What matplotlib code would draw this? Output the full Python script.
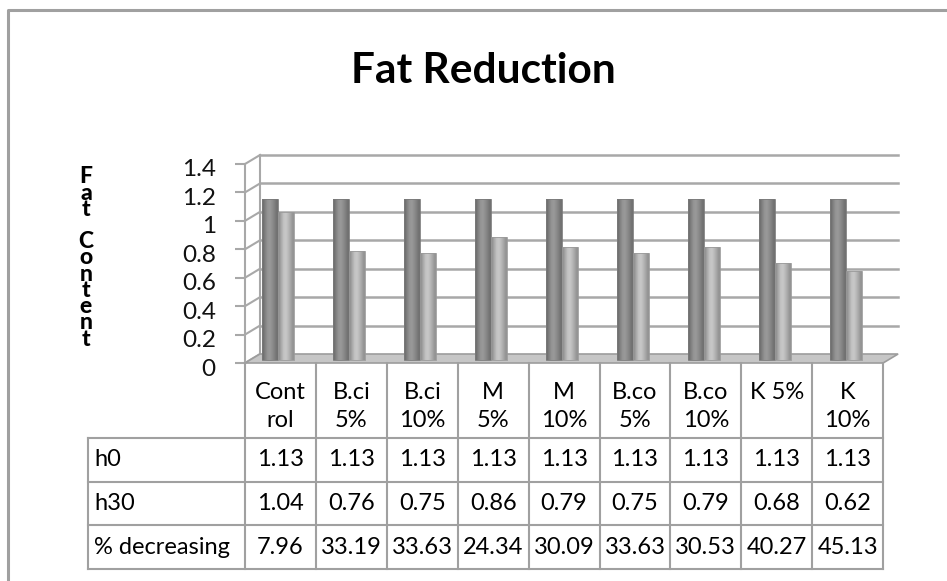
import numpy as np
import matplotlib.pyplot as plt
from matplotlib.patches import Polygon
from matplotlib.transforms import ScaledTranslation

plt.rcParams['font.family'] = ['Lato', 'DejaVu Sans']

# data
categories = ['Cont\nrol', 'B.ci\n5%', 'B.ci\n10%', 'M\n5%', 'M\n10%',
              'B.co\n5%', 'B.co\n10%', 'K 5%', 'K\n10%']
h0 = [1.13, 1.13, 1.13, 1.13, 1.13, 1.13, 1.13, 1.13, 1.13]
h30 = [1.04, 0.76, 0.75, 0.86, 0.79, 0.75, 0.79, 0.68, 0.62]
pct_decreasing = [7.96, 33.19, 33.63, 24.34, 30.09, 33.63, 30.53, 40.27, 45.13]
row_labels = ['h0', 'h30', '% decreasing']
yticks = [0, 0.2, 0.4, 0.6, 0.8, 1, 1.2, 1.4]

W, H = 947, 581
fig = plt.figure(figsize=(W / 100, H / 100), dpi=100)

# pixel layout of the front plane of the plot area
x_left, col_w = 245, 70.9
y_zero, y_top = 363, 164
n = len(categories)
px_per_y = (y_zero - y_top) / 1.4

ax = fig.add_axes([x_left / W, 1 - y_zero / H, n * col_w / W, (y_zero - y_top) / H])
ax.set_xlim(-0.5, n - 0.5)
ax.set_ylim(0, 1.4)
ax.patch.set_visible(False)

# 3d-ish depth offsets (data units)
back_dx, back_dy = 15 / col_w, 9 / px_per_y
bar_dy = 3.5 / px_per_y
grid_col = '#a8a8a8'

# back wall grid + side wall
x0, x1 = -0.5 + back_dx, n - 0.5 + back_dx
for t in yticks[1:]:
    ax.plot([x0, x1], [t + back_dy, t + back_dy], color=grid_col, lw=1.8, clip_on=False, zorder=1)
for t in yticks:
    ax.plot([-0.5, x0], [t, t + back_dy], color=grid_col, lw=1.5, clip_on=False, zorder=1)
ax.plot([x0, x0], [back_dy, 1.4 + back_dy], color=grid_col, lw=1.5, clip_on=False, zorder=1)

# floor
floor = Polygon([(-0.5, 0), (n - 0.5, 0), (x1, back_dy), (x0, back_dy)], closed=True,
                facecolor='#c6c6c6', edgecolor='#9c9c9c', lw=1.2, clip_on=False, zorder=2)
ax.add_patch(floor)


def shade_bars(bars, base):
    base = np.array(plt.matplotlib.colors.to_rgb(base))
    prof = np.array([0.78, 0.92, 1.05, 1.08, 1.0, 0.9, 0.8])
    img = np.clip(prof[None, :, None] * base[None, None, :], 0, 1)
    for b in bars:
        x, y = b.get_x(), b.get_y()
        im = ax.imshow(img, extent=[x, x + b.get_width(), y, y + b.get_height()],
                       aspect='auto', interpolation='bilinear', zorder=3)
        im.set_clip_path(b)
        b.set_facecolor('none')


xs = np.arange(n)
bw = 16 / col_w
b0 = ax.bar(xs - 10 / col_w, h0, width=bw, bottom=bar_dy, color='#8e8e8e',
            edgecolor='#7a7a7a', lw=0.6, zorder=4)
b1 = ax.bar(xs + 6 / col_w, h30, width=bw, bottom=bar_dy, color='#b9b9b9',
            edgecolor='#9a9a9a', lw=0.6, zorder=4)
shade_bars(b0, '#8e8e8e')
shade_bars(b1, '#b9b9b9')

# front y axis
for s in ['top', 'right', 'bottom']:
    ax.spines[s].set_visible(False)
ax.spines['left'].set_color(grid_col)
ax.spines['left'].set_linewidth(1.5)
ax.spines['left'].set_bounds(0, 1.4)
ax.set_xticks([])
ax.set_yticks(yticks)
ax.set_yticklabels([f'{t:g}' for t in yticks], fontsize=17.5, color='#111111')
ax.tick_params(axis='y', length=7, width=1.5, color=grid_col, pad=14)
for lbl in ax.get_yticklabels():
    lbl.set_transform(lbl.get_transform() + ScaledTranslation(0, -0.04, fig.dpi_scale_trans))

# overlay in pixel coords for table, title and frame
ov = fig.add_axes([0, 0, 1, 1])
ov.set_xlim(0, W)
ov.set_ylim(H, 0)
ov.axis('off')
ov.patch.set_visible(False)

# chart frame
ov.plot([8, 8, W], [H, 10, 10], color='#a0a0a0', lw=2.2)

ov.text(483, 83, 'Fat Reduction', ha='center', va='baseline', fontsize=30.5, fontweight='bold')
ov.text(86, 258, '\n'.join('Fat Content'), ha='center', va='center', fontsize=16.5,
        fontweight='black', linespacing=0.72)

# data table
tcol = '#a0a0a0'
lab_left = 88
edges = [x_left + col_w * i for i in range(n + 1)]
rows = [438, 482, 525, 569]
for r in rows:
    ov.plot([lab_left, edges[-1]], [r, r], color=tcol, lw=1.5)
ov.plot([lab_left, lab_left], [rows[0], rows[-1]], color=tcol, lw=1.5)
for e in edges:
    ov.plot([e, e], [y_zero, rows[-1]], color=tcol, lw=1.5)

for i, cat in enumerate(categories):
    cx = (edges[i] + edges[i + 1]) / 2
    ov.text(cx, 382, cat, ha='center', va='top', fontsize=17, linespacing=1.42)

table_rows = [h0, h30, pct_decreasing]
for j, (lab, vals) in enumerate(zip(row_labels, table_rows)):
    cy = (rows[j] + rows[j + 1]) / 2
    ov.text(94, cy, lab, ha='left', va='center', fontsize=17)
    for i, v in enumerate(vals):
        cx = (edges[i] + edges[i + 1]) / 2
        ov.text(cx, cy, f'{v:.2f}', ha='center', va='center', fontsize=17)

fig.savefig('out.png', dpi=100)
